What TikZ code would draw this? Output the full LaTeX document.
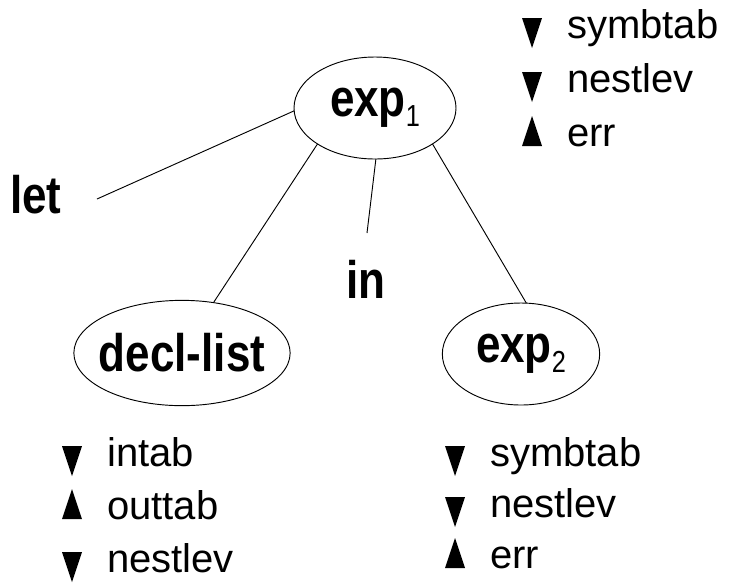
\documentclass[tikz,border=0pt]{standalone}
\usepackage{fontspec}
\setmainfont{Liberation Sans}
\usepackage{graphicx}
\usetikzlibrary{shapes.geometric}

\newcommand\tallb[1]{\scalebox{1}[1.2]{\bfseries\fontsize{33}{38}\selectfont #1}}
\newcommand\sub[1]{\raisebox{-6pt}[\height][0pt]{\mdseries\fontsize{19}{20}\selectfont #1}}

\tikzset{
    nt/.style={ellipse, draw, line width=0.7pt, inner sep=0pt, outer sep=0pt},
    kw/.style={inner sep=0pt, anchor=base west},
    attr/.style={inner sep=0pt, anchor=base west, font=\fontsize{30}{36}\selectfont},
    edge/.style={line width=0.7pt},
}

\begin{document}
\begin{tikzpicture}[x=0.75pt, y=-0.75pt]
            \useasboundingbox (0,0) rectangle (734,583);
            % tree nodes
            \node[nt, minimum width=121.5pt, minimum height=76.5pt] (exp1) at (375,108) {\tallb{exp\sub{1}}};
            \node[nt, inner xsep=-5pt, minimum width=161pt, minimum height=79pt] (decl) at (182,353) {\tallb{decl-list}};
            \node[nt, minimum width=118pt, minimum height=76.5pt] (exp2) at (521,354) {\tallb{exp\sub{2}}};
            \node[kw] (let) at (10,213) {\tallb{let}};
            \node[kw] (in) at (346,298) {\tallb{in}};
            \coordinate (let-end) at (97,199);
            \coordinate (in-end) at (367,233);
            \draw[edge] (exp1.182) -- (let-end);
            \draw[edge] (exp1.212) -- (decl.58);
            \draw[edge] (exp1.271) -- (in-end);
            \draw[edge] (exp1.328) -- (exp2.84);
            % attribute lists
            \foreach[count=\j] \ty/\th/\attr in {-20/30/symbtab, -20/30/nestlev, 0/-30/err} {
                \node[attr] (top-\j) at (567,-16+54*\j) {\attr};
                \fill (top-\j.base west) ++(-45,\ty) -- ++(20,0) -- ++(-10,\th) -- cycle;
            }
            \foreach[count=\j] \ty/\th/\attr in {-20/30/intab, 0/-30/outtab, -20/30/nestlev} {
                \node[attr] (decl-\j) at (107,413+53*\j) {\attr};
                \fill (decl-\j.base west) ++(-45,\ty) -- ++(20,0) -- ++(-10,\th) -- cycle;
            }
            \foreach[count=\j] \ty/\th/\attr in {-20/30/symbtab, -20/30/nestlev, 0/-30/err} {
                \node[attr] (exp-\j) at (490,415+51*\j) {\attr};
                \fill (exp-\j.base west) ++(-45,\ty) -- ++(20,0) -- ++(-10,\th) -- cycle;
            }
        \end{tikzpicture}
\end{document}
